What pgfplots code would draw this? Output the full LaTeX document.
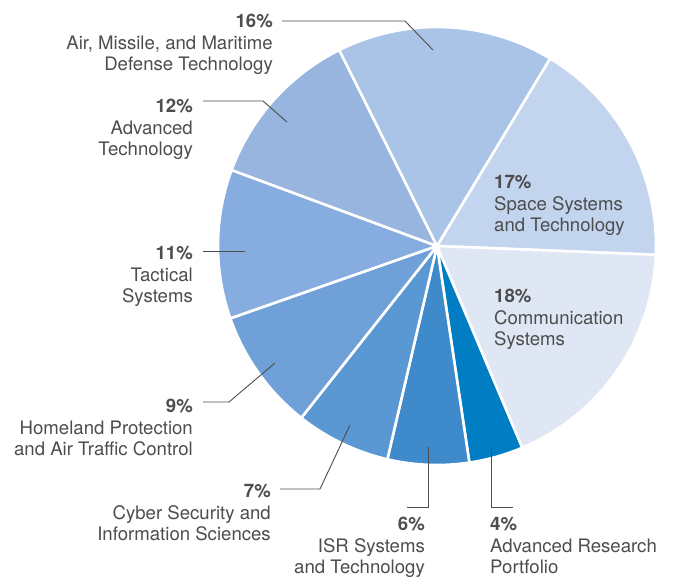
\documentclass[border=0pt]{standalone}
\usepackage{pgfplots}
\pgfplotsset{compat=1.18}
\usepackage{fontspec}
\setmainfont{TeX Gyre Heros}
\definecolor{c16}{HTML}{AAC4E8}
\definecolor{c17}{HTML}{C2D4EE}
\definecolor{c18}{HTML}{DFE7F4}
\definecolor{c4}{HTML}{007DC3}
\definecolor{c6}{HTML}{3E8ACB}
\definecolor{c7}{HTML}{5A98D3}
\definecolor{c9}{HTML}{6FA0D7}
\definecolor{c11}{HTML}{87ACDF}
\definecolor{c12}{HTML}{97B5DF}
\definecolor{txt}{HTML}{4D4D4D}
\def\cx{437}\def\cy{246}\def\R{219}
\gdef\aStart{58.9}
\newcommand\slice[2]{%
  \pgfmathsetmacro\aEnd{\aStart-#1*3.6}%
  \edef\doslice{\noexpand\addplot[fill=#2, draw=white, line width=2.6pt, line join=round, domain=\aEnd:\aStart, samples=90, variable=\noexpand\t] ({\cx+\R*cos(\noexpand\t)},{\cy-\R*sin(\noexpand\t)}) -- (axis cs:\cx,\cy) -- cycle;}%
  \doslice
  \global\let\aStart\aEnd}
% label: anchor side (east/west), x, baseline y, pct, line1, line2
\newcommand\lab[6]{%
  \node[anchor=base #1, inner sep=0pt, text=txt, font=\fontsize{18.6}{21}\selectfont\bfseries] at (axis cs:#2,#3) {#4};
  \node[anchor=base #1, inner sep=0pt, text=txt, font=\fontsize{18.6}{21}\selectfont] at (axis cs:#2,#3+22) {#5};
  \node[anchor=base #1, inner sep=0pt, text=txt, font=\fontsize{18.6}{21}\selectfont] at (axis cs:#2,#3+43) {#6};}
\begin{document}
\begin{tikzpicture}
\begin{axis}[width=673pt, height=578pt, scale only axis, xmin=0, xmax=673, ymin=0, ymax=578, y dir=reverse, hide axis, clip=false]
\path[draw=none] (axis cs:0,0) rectangle (axis cs:673,578);
% percentages, clockwise from the top-right boundary
\slice{17}{c17}
\slice{18}{c18}
\slice{4}{c4}
\slice{6}{c6}
\slice{7}{c7}
\slice{9}{c9}
\slice{11}{c11}
\slice{12}{c12}
\slice{16}{c16}
% leader lines
\draw[txt, line width=0.9pt] (axis cs:282,21) -- (axis cs:405,21) -- (axis cs:433,50);
\draw[txt, line width=0.9pt] (axis cs:203,101) -- (axis cs:263,101) -- (axis cs:287,122);
\draw[txt, line width=0.9pt] (axis cs:203,251) -- (axis cs:245,251);
\draw[txt, line width=0.9pt] (axis cs:203,402) -- (axis cs:229,402) -- (axis cs:275,363);
\draw[txt, line width=0.9pt] (axis cs:280,489) -- (axis cs:320,489) -- (axis cs:350,425);
\draw[txt, line width=0.9pt] (axis cs:407,507) -- (axis cs:428,507) -- (axis cs:428,447);
\draw[txt, line width=0.9pt] (axis cs:513,507) -- (axis cs:491,507) -- (axis cs:491,447);
% labels
\lab{east}{273}{28}{16\%}{Air, Missile, and Maritime}{Defense Technology}
\lab{east}{193}{113}{12\%}{Advanced}{Technology}
\lab{east}{193}{259}{11\%}{Tactical}{Systems}
\lab{east}{193}{412}{9\%}{Homeland Protection}{and Air Traffic Control}
\lab{east}{271}{497}{7\%}{Cyber Security and}{Information Sciences}
\lab{east}{425}{530}{6\%}{ISR Systems}{and Technology}
\lab{west}{490}{530}{4\%}{Advanced Research}{Portfolio}
\lab{west}{494}{188}{17\%}{Space Systems}{and Technology}
\lab{west}{494}{302}{18\%}{Communication}{Systems}
\end{axis}
\end{tikzpicture}
\end{document}
